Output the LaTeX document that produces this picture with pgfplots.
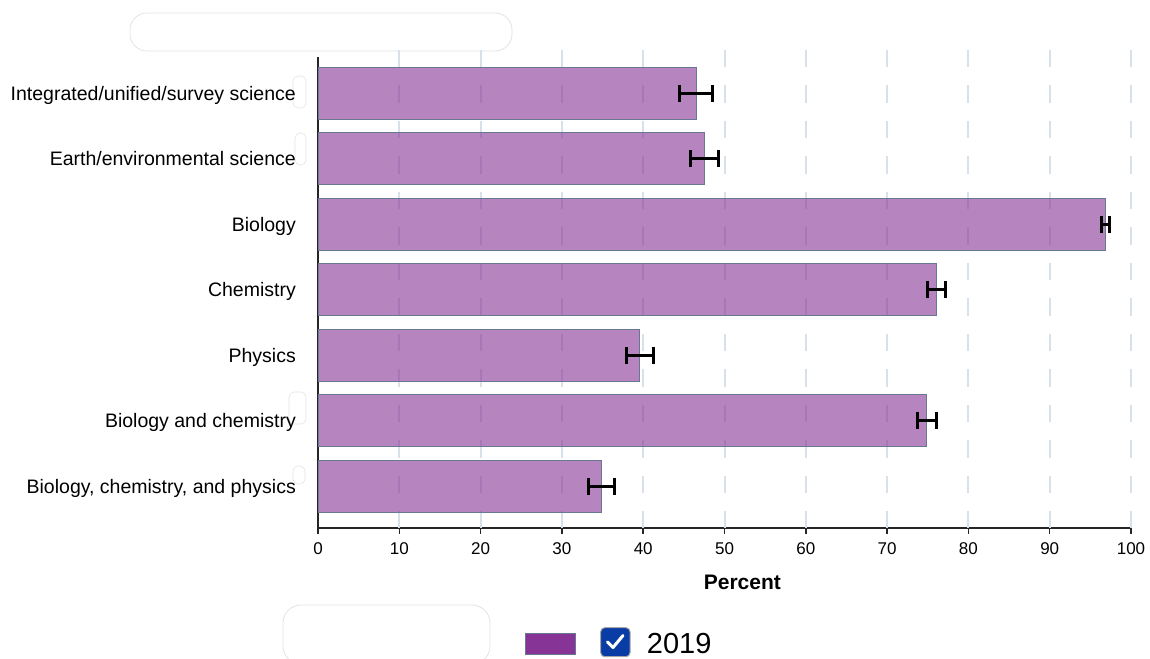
\documentclass[border=0pt]{standalone}
\usepackage{pgfplots}
\pgfplotsset{compat=1.18}
\usepackage{fontspec}
\setmainfont{Liberation Sans}

\definecolor{barpurple}{RGB}{134,52,150}
\definecolor{baredge}{RGB}{104,120,146}
\definecolor{gridc}{RGB}{216,224,233}
\definecolor{axisc}{RGB}{38,38,38}
\definecolor{checkblue}{RGB}{10,60,165}
\definecolor{blobc}{RGB}{226,226,226}

% Share of schools offering each science course sequence, 2019 (percent, standard error)
\pgfplotstableread{
c v e
0 34.9 1.6
1 74.9 1.2
2 39.6 1.7
3 76.1 1.1
4 96.9 0.5
5 47.5 1.7
6 46.5 2.0
}\coursedata

\begin{document}
\begin{tikzpicture}[x=1pt,y=1pt]
\path[use as bounding box] (0,0) rectangle (1150,658);

% masked-out heading and note areas
\draw[blobc, line width=0.8pt, rounded corners=17pt] (130,607) rectangle (512,645);
\draw[blobc, line width=0.8pt, rounded corners=18pt] (283,-6) rectangle (490,53);
\draw[blobc, line width=0.6pt, rounded corners=5pt] (293,550) rectangle (306,582);
\draw[blobc, line width=0.6pt, rounded corners=5pt] (295,493) rectangle (306,525);
\draw[blobc, line width=0.6pt, rounded corners=5pt] (289,234) rectangle (306,266);
\draw[blobc, line width=0.6pt, rounded corners=5pt] (293,174) rectangle (305,192);

\begin{axis}[
  at={(318pt,130pt)}, anchor=south west,
  scale only axis, width=813pt, height=471pt,
  xmin=0, xmax=100, ymin=-0.64, ymax=6.55,
  clip=false,
  axis x line*=bottom, axis y line*=left,
  x axis line style={axisc, line width=2pt},
  y axis line style={axisc, line width=2.5pt},
  xtick={0,10,...,100},
  ytick={0,...,6},
  yticklabels={{Biology, chemistry, and physics},{Biology and chemistry},Physics,Chemistry,Biology,{Earth/environmental science},{Integrated/unified/survey science}},
  tick align=outside,
  major tick length=6pt,
  xtick style={axisc, line width=1.5pt},
  ytick style={draw=none},
  /pgf/number format/assume math mode=true,
  xticklabel style={font=\fontsize{17}{17}\selectfont, anchor=north, inner sep=0pt,
    text height=12.3pt, text depth=0pt, text=black, yshift=-8pt},
  yticklabel style={font=\fontsize{19.5}{19.5}\selectfont, anchor=east, inner sep=0pt,
    text height=14pt, text depth=0pt, xshift=-16pt, text=black},
  xlabel={Percent},
  xlabel style={at={(axis description cs:0.522,0)}, anchor=center, yshift=-54.5pt,
    font=\bfseries\fontsize{21}{21}\selectfont},
]
% dashed vertical grid
\pgfplotsinvokeforeach{10,20,30,40,50,60,70,80,90,100}{
  \draw[gridc, line width=2pt, dash pattern=on 17.5pt off 18pt] (axis cs:#1,6.66) -- (axis cs:#1,-0.64);
}
\addplot[xbar, bar width=52pt, fill=barpurple, fill opacity=0.6, draw=baredge, line width=1pt,
  error bars/.cd, x dir=both, x explicit,
  error mark=|,
  error bar style={black, line width=3pt},
  error mark options={black, line width=3pt, mark size=8.5pt}]
  table[x=v, y=c, x error=e] {\coursedata};
\end{axis}

% legend
\draw[baredge, line width=1.5pt, fill=barpurple] (525.7,3.7) rectangle (575.7,24.7);
\draw[gray!70, line width=1pt, fill=checkblue, rounded corners=4pt] (600.7,1.3) rectangle (630,30.3);
\draw[white, line width=3pt, line cap=round, line join=round] (607.5,16) -- (613,10.5) -- (623,22.5);
\node[anchor=west, inner sep=0pt, font=\fontsize{29}{29}\selectfont] at (646.7,14.2) {2019};
\end{tikzpicture}
\end{document}
